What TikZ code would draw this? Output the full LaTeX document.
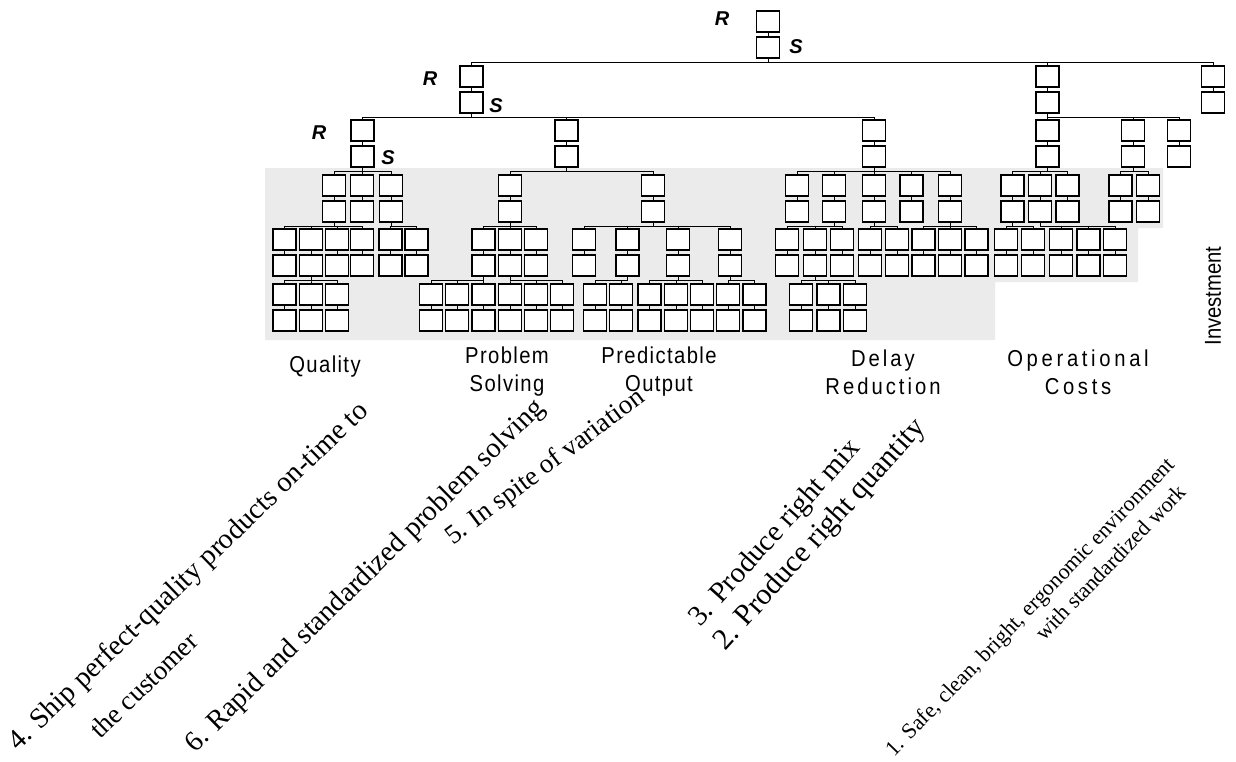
\documentclass[tikz,border=0pt]{standalone}
\usepackage{fontspec}
\setmainfont{Liberation Serif}
\newfontfamily\labfont[FakeStretch=0.88]{Liberation Sans}
\newfontfamily\rsfont{Liberation Sans}
\newcommand\pr[3]{%
  \node[bx,anchor=north] (#1-a) at (#2,#3) {};
  \node[bx,anchor=north] (#1-b) at (#2,#3+26) {};
  \draw[ln] (#1-a) -- (#1-b);}
\newcommand\lks[2]{\foreach \c in {#2}{\draw[ln] (#1-b.south) -- ++(0,4) -| (\c-a.north);}}
\begin{document}
\begin{tikzpicture}[x=1pt,y=-1pt,
  bx/.style={draw=black, line width=1.1pt, fill=white, minimum width=23pt, minimum height=21pt, inner sep=0pt, outer sep=0pt},
  ln/.style={line width=1pt},
  lab/.style={font=\labfont\fontsize{23}{28}\selectfont, align=center, inner sep=0pt},
  rs/.style={font=\rsfont\bfseries\itshape\fontsize{20}{22}\selectfont, inner sep=0pt},
  diag/.style={inner sep=0pt, anchor=base west}]
\useasboundingbox (0,0) rectangle (1236,761);
\fill[black!8] (265,168) -- (1163,168) -- (1163,228) -- (1138,228) -- (1138,282) -- (995,282) -- (995,340) -- (265,340) -- cycle;
% level 0
\pr{r}{768}{11}
% level 1
\pr{l1}{471.5}{66}\pr{op}{1047.5}{66}\pr{inv}{1213}{66}
% level 2
\pr{q}{362.5}{120}\pr{m}{566.5}{120}\pr{d}{874}{120}
\pr{opb}{1047.5}{120}\pr{s1}{1133}{120}\pr{s2}{1179}{120}
% level 3
\pr{qa}{334}{175}\pr{qb}{362}{175}\pr{qc}{391}{175}
\pr{ps}{510}{175}\pr{po}{653}{175}
\pr{da}{797}{175}\pr{db}{834}{175}\pr{dc}{874}{175}\pr{dd}{911.5}{175}\pr{de}{950}{175}
\pr{oa}{1012.5}{175}\pr{ob}{1040}{175}\pr{oc}{1067.5}{175}
\pr{sa}{1120.5}{175}\pr{sb}{1148}{175}
% level 4
\pr{qa1}{284.5}{229}\pr{qa2}{311}{229}\pr{qa3}{337}{229}\pr{qa4}{362}{229}
\pr{qc1}{390.5}{229}\pr{qc2}{416.5}{229}
\pr{ps1}{483.5}{229}\pr{ps2}{510}{229}\pr{ps3}{536}{229}
\pr{po1}{584}{229}\pr{po2}{627.5}{229}\pr{po3}{678}{229}\pr{po4}{730}{229}
\pr{db1}{787}{229}\pr{db2}{815}{229}\pr{db3}{842}{229}
\pr{dc1}{870}{229}\pr{dc2}{897}{229}
\pr{de1}{923.5}{229}\pr{de2}{950}{229}\pr{de3}{976.5}{229}
\pr{oa1}{1006}{229}\pr{oa2}{1033}{229}
\pr{ob1}{1061}{229}\pr{ob2}{1088.5}{229}\pr{ob3}{1115}{229}
% level 5
\pr{qx1}{284.5}{284}\pr{qx2}{311}{284}\pr{qx3}{337}{284}
\pr{pa1}{431}{284}\pr{pa2}{457}{284}\pr{pa3}{483.5}{284}
\pr{pb1}{510}{284}\pr{pb2}{536}{284}\pr{pb3}{562}{284}
\pr{pq1}{595}{284}\pr{pq2}{621}{284}
\pr{pr1}{649.5}{284}\pr{pr2}{676}{284}\pr{pr3}{702}{284}
\pr{pt1}{728}{284}\pr{pt2}{754.5}{284}
\pr{dx1}{801}{284}\pr{dx2}{828.5}{284}\pr{dx3}{855}{284}
% links
\lks{r}{l1,op,inv}
\lks{l1}{q,m,d}
\lks{op}{opb,s1,s2}
\lks{q}{qa,qb,qc}
\lks{m}{ps,po}
\lks{d}{da,db,dc,dd,de}
\lks{opb}{oa,ob,oc}
\lks{s1}{sa,sb}
\lks{qa}{qa1,qa2,qa3,qa4}
\lks{qc}{qc1,qc2}
\lks{ps}{ps1,ps2,ps3}
\lks{po}{po1,po2,po3,po4}
\lks{db}{db1,db2,db3}
\lks{dc}{dc1,dc2}
\lks{de}{de1,de2,de3}
\lks{oa}{oa1,oa2}
\lks{ob}{ob1,ob2,ob3}
\lks{qa2}{qx1,qx2,qx3}
\lks{ps1}{pa1,pa2,pa3}
\lks{ps2}{pb1,pb2,pb3}
\lks{po2}{pq1,pq2}
\lks{po3}{pr1,pr2,pr3}
\lks{po4}{pt1,pt2}
\lks{db2}{dx1,dx2,dx3}
% R / S labels
\node[rs] (rr) at (722,19) {R};
\node[rs] (rs0) at (796,47) {S};
\node[rs] (r1) at (430,79) {R};
\node[rs] (s1l) at (496,106) {S};
\node[rs] (r2) at (319,133) {R};
\node[rs] (s2l) at (388,158) {S};
% category labels
\node[lab] (tq) at (325,367) {\addfontfeatures{LetterSpace=6}Quality};
\node[lab] (tps) at (507,372) {\addfontfeatures{LetterSpace=6}Problem\\\addfontfeatures{LetterSpace=6}Solving};
\node[lab] (tpo) at (659,372) {\addfontfeatures{LetterSpace=6}Predictable\\\addfontfeatures{LetterSpace=6}Output};
\node[lab] (tdr) at (883,372) {\addfontfeatures{LetterSpace=13}Delay\\\addfontfeatures{LetterSpace=13}Reduction};
\node[lab] (toc) at (1078,372) {\addfontfeatures{LetterSpace=16}Operational\\\addfontfeatures{LetterSpace=16}Costs};
\node[lab, rotate=90] (tin) at (1213,296) {Investment};
% diagonal texts
\node[diag, rotate=44, font=\fontsize{28.5}{32}\selectfont] (t4a) at (18,752) {4. Ship perfect-quality products on-time to};
\node[diag, rotate=44, font=\fontsize{27}{30}\selectfont] (t4b) at (100,740) {the customer};
\node[diag, rotate=44.5, font=\fontsize{28.5}{32}\selectfont] (t6) at (195,754) {6. Rapid and standardized problem solving};
\node[diag, rotate=37, font=\fontsize{27}{30}\selectfont] (t5) at (453,546) {5. In spite of variation};
\node[diag, rotate=48, font=\fontsize{29}{32}\selectfont] (t3) at (700,628) {3. Produce right mix};
\node[diag, rotate=48, font=\fontsize{30}{33}\selectfont] (t2) at (725,652) {2. Produce right quantity};
\node[diag, rotate=46, font=\fontsize{22}{25}\selectfont] (t1a) at (894,758) {1. Safe, clean, bright, ergonomic environment};
\node[diag, rotate=46, font=\fontsize{22}{25}\selectfont] (t1b) at (1044,642) {with standardized work};
\end{tikzpicture}
\end{document}
